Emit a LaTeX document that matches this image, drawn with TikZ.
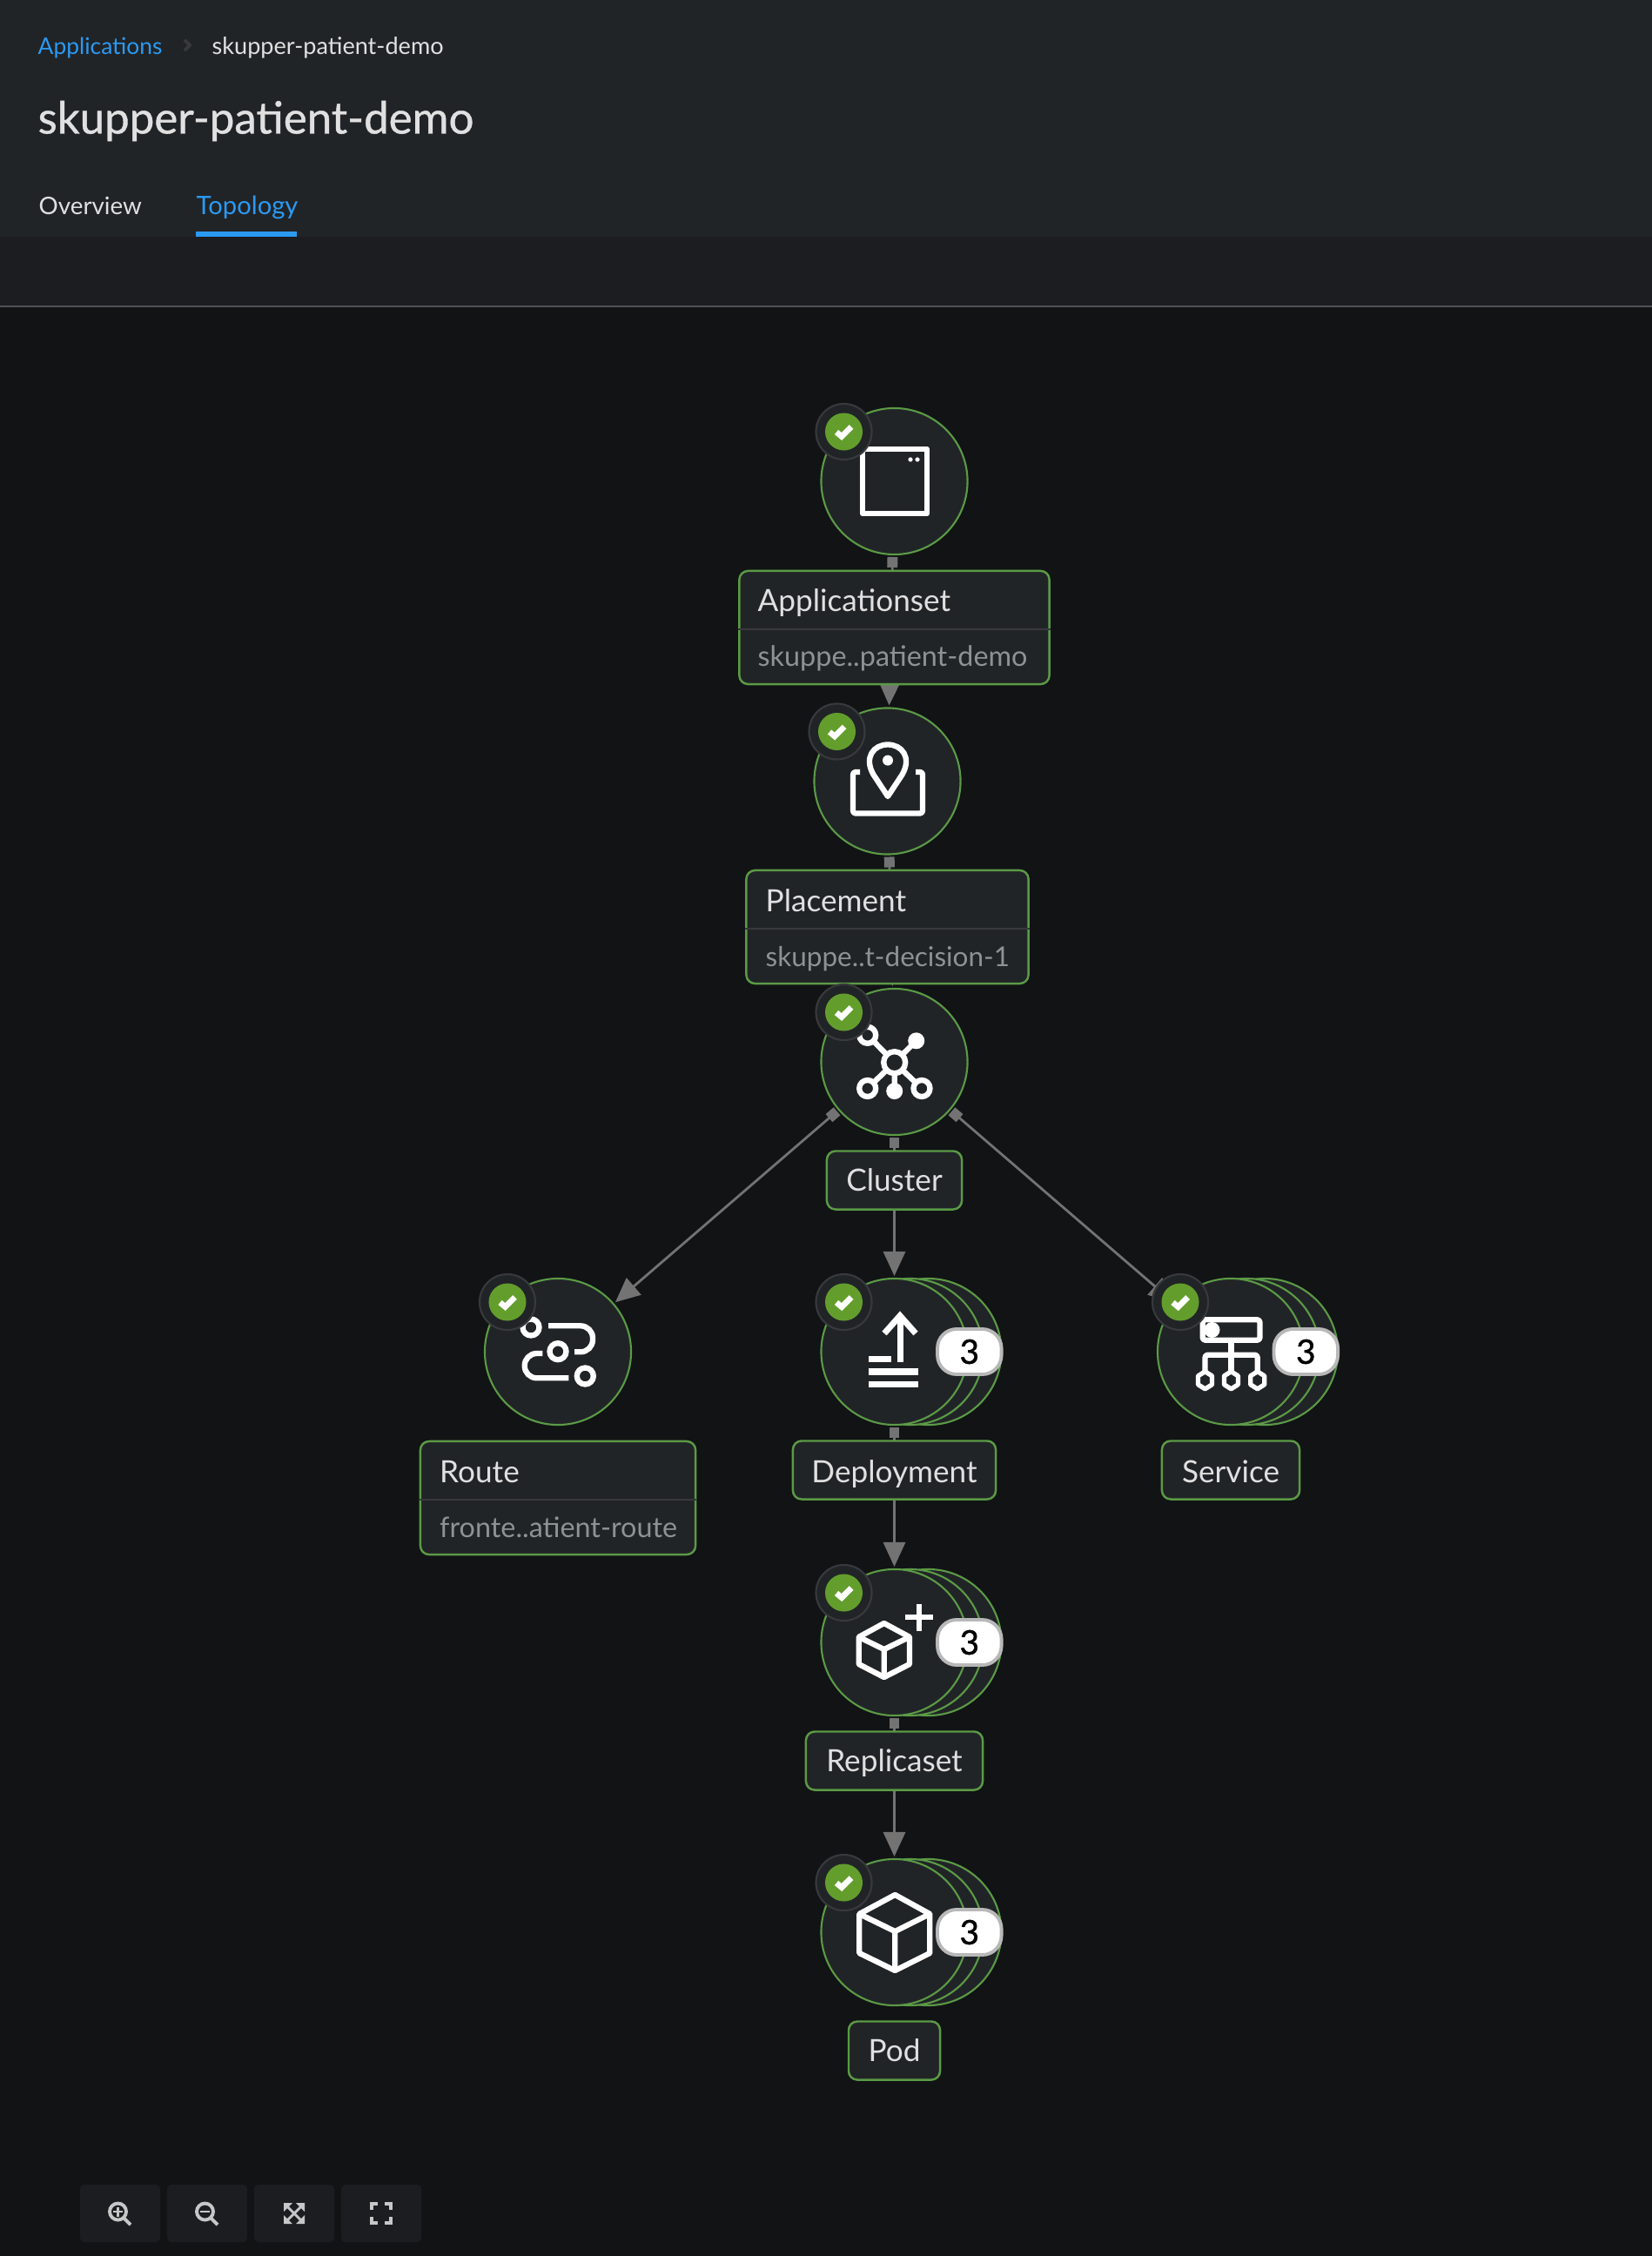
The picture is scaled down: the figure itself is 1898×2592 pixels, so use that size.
\documentclass[tikz,border=0pt]{standalone}
\usepackage{fontspec}
\setmainfont{Lato}
\usetikzlibrary{calc}
\usetikzlibrary{arrows.meta}
\usetikzlibrary{backgrounds}

\definecolor{canvasbg}{HTML}{111315}
\definecolor{headbg}{HTML}{212427}
\definecolor{bandbg}{HTML}{1B1D21}
\definecolor{ruleline}{HTML}{4F5255}
\definecolor{okgreen}{HTML}{5B9A45}
\definecolor{okfill}{HTML}{639E2D}
\definecolor{ringgray}{HTML}{38393C}
\definecolor{edgegray}{HTML}{737373}
\definecolor{subgray}{HTML}{8F9295}
\definecolor{softwhite}{HTML}{E0E0E0}
\definecolor{linkblue}{HTML}{2B9AF3}
\definecolor{toolgray}{HTML}{C7C7C7}
\definecolor{pillgray}{HTML}{B8B8B8}

\tikzset{
  roundnode/.style={circle, draw=okgreen, fill=headbg, line width=0.6pt, minimum size=1.68cm, inner sep=0pt, outer sep=0.85pt},
  labelbox/.style={rectangle, draw=okgreen, fill=headbg, line width=0.7pt, rounded corners=0.1cm, inner sep=0pt},
  divider/.style={ringgray, line width=0.4pt},
  edge/.style={edgegray, line width=0.8pt, {Square[length=3.4pt,width=3.4pt]}-{Triangle[length=8pt,width=7.2pt]}},
  titletext/.style={text=softwhite, font=\fontsize{10}{12}\selectfont, inner sep=0pt},
  subtext/.style={text=subgray, font=\fontsize{9.2}{11}\selectfont, inner sep=0pt},
  headtext/.style={text=softwhite, inner sep=0pt},
  bluetext/.style={text=linkblue, inner sep=0pt},
  statusring/.style={circle, draw=ringgray, fill=headbg, line width=0.6pt, minimum size=0.64cm, inner sep=0pt},
  statusdot/.style={circle, fill=okfill, minimum size=0.43cm, inner sep=0pt},
  countpill/.style={rectangle, draw=pillgray, fill=white, line width=1.1pt, rounded corners=0.22cm, minimum width=0.735cm, minimum height=0.52cm, inner sep=0pt, text=black, font=\fontsize{11}{13}\selectfont\addfontfeature{FakeBold=1.2}},
  toolbtn/.style={rectangle, fill=bandbg, rounded corners=0.05cm, minimum width=0.92cm, minimum height=0.66cm, inner sep=0pt},
  icon/.style={draw=white, line width=1.8pt, line join=round},
  toolicon/.style={draw=toolgray, line width=1.1pt},
}

\begin{document}
\begin{tikzpicture}[x=0.01cm, y=-0.01cm]
  \path [use as bounding box] (0,0) rectangle (1898,2592);

  \begin{scope}[on background layer]
    \fill [canvasbg] (0,0) rectangle (1898,2592);
    \fill [headbg] (0,0) rectangle (1898,272);
    \fill [bandbg] (0,272) rectangle (1898,352);
    \fill [ruleline] (0,351) rectangle (1898,353);
    \fill [linkblue] (225,266) rectangle (341,272);
  \end{scope}

  % page header
  \node [bluetext, anchor=base west, font=\fontsize{7.5}{9}\selectfont] (crumblink) at (43,62.5) {Applications};
  \node [headtext, anchor=base west, font=\fontsize{7.7}{9}\selectfont] (crumbpage) at (243,62.5) {skupper-patient-demo};
  \draw [ringgray, line width=1.1pt] (212,46) -- (218,52) -- (212,58);
  \node [anchor=base west, text=softwhite, inner sep=0pt, font=\fontsize{14.5}{18}\selectfont\addfontfeature{FakeBold=0.8}] (pagetitle) at (43,153.5) {skupper-patient-demo};
  \node [headtext, anchor=base west, font=\fontsize{7.9}{9}\selectfont] (taboverview) at (44,246.5) {Overview};
  \node [bluetext, anchor=base west, font=\fontsize{8.3}{10}\selectfont] (tabtopology) at (225,246.5) {Topology};

  % single nodes
  \node [roundnode] (appset) at (1027.5,553) {};
  \node [roundnode] (place) at (1019.5,897.5) {};
  \node [roundnode] (cluster) at (1027.5,1220) {};
  \node [roundnode] (route) at (641,1553) {};

  % stacked nodes
  \foreach \n/\x/\y in {deploy/1027.5/1553, service/1414/1553, replica/1027.5/1887, pod/1027.5/2220} {
    \node [roundnode] (\n three) at (\x+39,\y) {};
    \node [roundnode] (\n two) at (\x+18,\y) {};
    \node [roundnode] (\n) at (\x,\y) {};
  }

  % connectors
  \begin{scope}[on background layer]
    \draw [edge] (appset) -- (place);
    \draw [edge] (place) -- (cluster);
    \draw [edge] (cluster) -- (route);
    \draw [edge] (cluster) -- (deploy);
    \draw [edge] (cluster) -- (service);
    \draw [edge] (deploy) -- (replica);
    \draw [edge] (replica) -- (pod);
  \end{scope}

  % label boxes
  \node [labelbox, minimum width=3.56cm, minimum height=1.30cm] (appsetbox) at (1027.5,721) {};
  \draw [divider] (appsetbox.west |- 0,723) -- (appsetbox.east |- 0,723);
  \node [titletext, anchor=base west] (appsetname) at (870,703) {Applicationset};
  \node [subtext, anchor=base west] (appsetsub) at (870,766) {skuppe..patient-demo};

  \node [labelbox, minimum width=3.24cm, minimum height=1.30cm] (placebox) at (1019.5,1065) {};
  \draw [divider] (placebox.west |- 0,1067) -- (placebox.east |- 0,1067);
  \node [titletext, anchor=base west] (placename) at (879,1047) {Placement};
  \node [subtext, anchor=base west, font=\fontsize{8.95}{11}\selectfont] (placesub) at (879,1110.5) {skuppe..t-decision-1};

  \node [labelbox, minimum width=3.16cm, minimum height=1.30cm] (routebox) at (641,1721) {};
  \draw [divider] (routebox.west |- 0,1723) -- (routebox.east |- 0,1723);
  \node [titletext, anchor=base west] (routename) at (504.5,1703) {Route};
  \node [subtext, anchor=base west] (routesub) at (504.5,1766) {fronte..atient-route};

  \node [labelbox, minimum width=1.55cm, minimum height=0.67cm] (clusterbox) at (1027.5,1356) {};
  \node [titletext, anchor=base] (clustername) at (1027.5,1368) {Cluster};
  \node [labelbox, minimum width=2.33cm, minimum height=0.67cm] (deploybox) at (1027.5,1689) {};
  \node [titletext, anchor=base] (deployname) at (1027.5,1703) {Deployment};
  \node [labelbox, minimum width=1.58cm, minimum height=0.67cm] (servicebox) at (1414,1689) {};
  \node [titletext, anchor=base] (servicename) at (1414,1703) {Service};
  \node [labelbox, minimum width=2.03cm, minimum height=0.67cm] (replicabox) at (1027.5,2023) {};
  \node [titletext, anchor=base] (replicaname) at (1027.5,2035) {Replicaset};
  \node [labelbox, minimum width=1.05cm, minimum height=0.67cm] (podbox) at (1027.5,2356) {};
  \node [titletext, anchor=base] (podname) at (1027.5,2368) {Pod};

  % icons
  \draw [icon] (991,516) rectangle (1065,590);
  \fill [white] (1046,528) circle (2.6) (1054,528) circle (2.6);

  \draw [icon, rounded corners=0.03cm] (988,887) -- (980,887) -- (980,934.5) -- (1060,934.5) -- (1060,887) -- (1052,887);
  \draw [icon] (1020,915) -- (1003.5,890) .. controls (992,870) and (1004,855.5) .. (1020,855.5) .. controls (1036,855.5) and (1048,870) .. (1036.5,890) -- cycle;
  \fill [white] (1020,873.6) circle (6);

  \draw [icon] (1027.7,1220.7) -- (996.7,1189.3) (1027.7,1220.7) -- (1052.7,1195.8) (1027.7,1220.7) -- (996.7,1250.5) (1027.7,1220.7) -- (1027.7,1253.6) (1027.7,1220.7) -- (1059,1250.5);
  \foreach \x/\y in {996.7/1189.3, 996.7/1250.5, 1059/1250.5} {
    \draw [icon, fill=headbg] (\x,\y) circle (9.5);
  }
  \draw [icon, fill=headbg] (1027.7,1220.7) circle (12.5);
  \fill [white] (1052.7,1195.8) circle (9.5) (1027.7,1253.6) circle (9.5);

  \foreach \x/\y in {610/1525, 641/1552.7, 672.3/1581} {
    \draw [icon] (\x,\y) circle (9.5);
  }
  \draw [icon, rounded corners=0.14cm] (630,1523.3) -- (681,1523.3) -- (681,1553.3) -- (660,1553.3);
  \draw [icon, rounded corners=0.14cm] (623.3,1555) -- (602.7,1555) -- (602.7,1583.3) -- (653.3,1583.3);

  \draw [icon, line width=2pt] (1034,1565) -- (1034,1511);
  \draw [icon, line width=2pt, line join=miter] (1016,1532) -- (1034,1511.7) -- (1052,1532);
  \fill [white] (998.3,1557.7) rectangle (1023.8,1565);
  \fill [white] (998.3,1572.3) rectangle (1055.4,1580);
  \fill [white] (998.3,1587) rectangle (1055.4,1594.3);

  \draw [icon, rounded corners=0.03cm] (1381.7,1516.3) rectangle (1447.5,1539.7);
  \fill [white] (1392.5,1528) circle (9);
  \draw [icon] (1414.4,1540) -- (1414.4,1578);
  \draw [icon, rounded corners=0.03cm] (1384.5,1578) -- (1384.5,1556.7) -- (1444.7,1556.7) -- (1444.7,1578);
  \foreach \x in {1384.5, 1414.4, 1444.7} {
    \draw [icon, fill=headbg, line width=1.5pt] (\x,1575.8) -- (\x+8,1580.8) -- (\x+8,1590.8) -- (\x,1595.8) -- (\x-8,1590.8) -- (\x-8,1580.8) -- cycle;
  }

  \draw [icon] (1015.7,1865) -- (1045,1880.8) -- (1045,1912) -- (1015.7,1927) -- (986.7,1912) -- (986.7,1880.8) -- cycle;
  \draw [icon] (986.7,1880.8) -- (1015.7,1895) -- (1045,1880.8) (1015.7,1895) -- (1015.7,1927);
  \draw [icon] (1040,1858) -- (1071.7,1858) (1055.7,1843) -- (1055.7,1874);

  \draw [icon] (1028.3,2177) -- (1068.3,2199) -- (1068.3,2244) -- (1028.3,2264) -- (987.3,2244) -- (987.3,2199) -- cycle;
  \draw [icon] (987.3,2199) -- (1028.3,2219) -- (1068.3,2199) (1028.3,2219) -- (1028.3,2264);

  % status badges
  \foreach \n in {appset, place, cluster, route, deploy, service, replica, pod} {
    \node [statusring] (\n ring) at ($(\n)+(-58,-57)$) {};
    \node [statusdot] (\n dot) at (\n ring) {};
    \draw [white, line width=1.9pt] ($(\n ring)+(-8.5,0.5)$) -- ($(\n ring)+(-2.5,5.5)$) -- ($(\n ring)+(8.5,-5.5)$);
  }

  % count pills
  \foreach \n in {deploy, service, replica, pod} {
    \node [countpill] (\n count) at ($(\n)+(86.3,0)$) {3};
  }

  % zoom toolbar
  \node [toolbtn] (zoomin) at (138,2543) {};
  \node [toolbtn] (zoomout) at (238,2543) {};
  \node [toolbtn] (fitview) at (338,2543) {};
  \node [toolbtn] (fullview) at (438,2543) {};

  \draw [toolicon] (135.5,2541) circle (9.5) (142,2548) -- (150,2556);
  \draw [toolicon, line width=0.7pt] (130,2541) -- (141,2541) (135.5,2535.5) -- (135.5,2546.5);
  \draw [toolicon] (235.5,2541) circle (9.5) (242,2548) -- (250,2556);
  \draw [toolicon, line width=0.7pt] (230,2541) -- (241,2541);

  \draw [toolicon, line width=0.8pt] (328,2533) -- (348,2553) (348,2533) -- (328,2553);
  \fill [toolgray] (326,2531) -- (336,2531) -- (326,2541) -- cycle (350,2531) -- (340,2531) -- (350,2541) -- cycle (326,2555) -- (336,2555) -- (326,2545) -- cycle (350,2555) -- (340,2555) -- (350,2545) -- cycle;

  \draw [toolicon] (434,2532) -- (427,2532) -- (427,2539) (442,2532) -- (449,2532) -- (449,2539) (427,2547) -- (427,2554) -- (434,2554) (449,2547) -- (449,2554) -- (442,2554);
\end{tikzpicture}
\end{document}
